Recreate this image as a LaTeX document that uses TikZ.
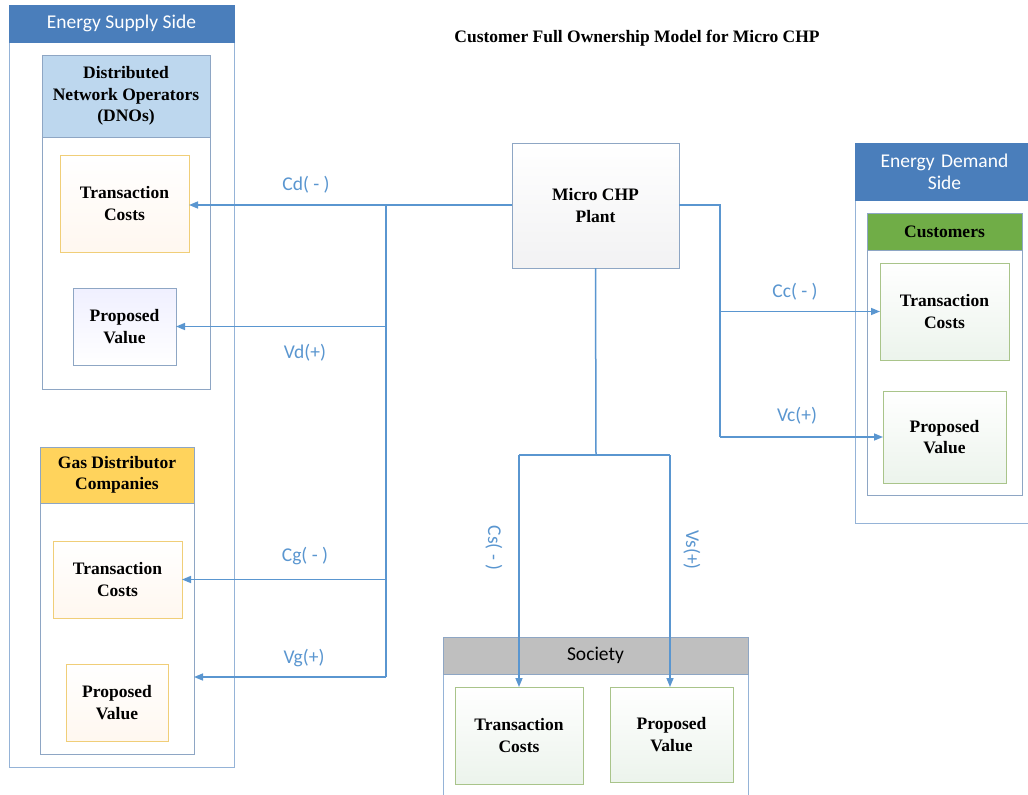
\documentclass[tikz,border=0pt]{standalone}
\usepackage{fontspec}
\setmainfont{Liberation Serif}
\newfontfamily\labelfont{Carlito}
\usetikzlibrary{arrows.meta}

\definecolor{headblue}{HTML}{4A7EBB}
\definecolor{frameblue}{HTML}{95B3D7}
\definecolor{dnohead}{HTML}{BDD7EE}
\definecolor{gashead}{HTML}{FFD35C}
\definecolor{custhead}{HTML}{70AD47}
\definecolor{sochead}{HTML}{BFBFBF}
\definecolor{linkblue}{HTML}{5A96D0}
\definecolor{goldedge}{HTML}{F0CE78}
\definecolor{greenedge}{HTML}{A9C48A}
\definecolor{greyblue}{HTML}{8EA6C4}

% place a rectangle node by its corners: name, x1, y1, x2, y2, style, text
\newcommand{\rbox}[7]{%
  \node[#6, minimum width={(#4-#2)*1pt}, minimum height={(#5-#3)*1pt}]
    (#1) at ({(#2+#4)/2},{(#3+#5)/2}) {#7};}

\tikzset{
  every node/.style={inner sep=0pt, outer sep=0pt, align=center},
  frame/.style={draw=frameblue, line width=1pt, fill=white},
  sanstxt/.style={font=\labelfont\fontsize{19.5}{22}\selectfont},
  bluehead/.style={draw=headblue, fill=headblue, text=white, sanstxt},
  subframe/.style={draw=greyblue, line width=1pt, fill=white},
  boldtxt/.style={font=\bfseries\fontsize{17.5}{21.5}\selectfont},
  peachbox/.style={draw=goldedge, line width=1pt, top color=white,
    bottom color=orange!6, boldtxt},
  paleblue/.style={draw=greyblue, line width=1pt, top color=blue!6,
    bottom color=white, boldtxt},
  palegreen/.style={draw=greenedge, line width=1pt, top color=white,
    bottom color=green!25!gray!12, boldtxt},
  chpbox/.style={draw=greyblue, line width=1pt, top color=white,
    bottom color=blue!5!gray!10, boldtxt},
  link/.style={draw=linkblue, line width=1.5pt},
  arr/.style={link, -{Triangle[length=9pt,width=7pt]}},
  lbl/.style={text=linkblue, sanstxt},
}

\begin{document}
\begin{tikzpicture}[x=1pt, y=-1pt]
\useasboundingbox[fill=white] (0,0) rectangle (1028,795);

% title
\node[font=\bfseries\fontsize{17.5}{20}\selectfont] (title) at (637,38)
  {Customer Full Ownership Model for Micro CHP};

% energy supply side
\rbox{supply}{9}{5}{234}{767}{frame}{}
\rbox{supplyhead}{9}{5}{234}{42}{bluehead}{Energy Supply Side}

\rbox{dno}{42}{55}{210}{389}{subframe}{}
\rbox{dnohead}{42}{55}{210}{137}{draw=greyblue, line width=1pt, fill=dnohead, boldtxt}
  {Distributed\\Network Operators\\(DNOs)}
\rbox{dnotc}{60}{155}{189}{252}{peachbox}{Transaction\\Costs}
\rbox{dnopv}{73}{288}{176}{365}{paleblue}{Proposed\\Value}

\rbox{gas}{40}{447}{194}{754}{subframe}{}
\rbox{gashead}{40}{447}{194}{503}{draw=greyblue, line width=1pt, fill=gashead, boldtxt}
  {Gas Distributor\\Companies}
\rbox{gastc}{53}{541}{182}{618}{peachbox}{Transaction\\Costs}
\rbox{gaspv}{66}{664}{168}{741}{peachbox}{Proposed\\Value}

% micro CHP plant
\rbox{chp}{512}{143}{679}{268}{chpbox}{Micro CHP\\Plant}

% energy demand side
\rbox{demand}{855}{143}{1034}{523}{frame}{}
\rbox{demandhead}{855}{143}{1034}{200}{bluehead, text width=170pt}{Energy Demand\\Side}
\rbox{cust}{867}{213}{1022}{495}{subframe}{}
\rbox{custhead}{867}{213}{1022}{250}{draw=greyblue, line width=1pt, fill=custhead, boldtxt}{Customers}
\rbox{custtc}{880}{263}{1009}{360}{palegreen}{Transaction\\Costs}
\rbox{custpv}{883}{391}{1006}{483}{palegreen}{Proposed\\Value}

% society
\rbox{soc}{443}{637}{748}{800}{frame}{}
\rbox{sochead}{443}{637}{748}{674}{draw=greyblue, line width=1pt, fill=sochead,
  sanstxt}{Society}
\rbox{soctc}{455}{687}{583}{784}{palegreen}{Transaction\\Costs}
\rbox{socpv}{610}{687}{733}{782}{palegreen}{Proposed\\Value}

% junction points of the flows
\coordinate (jl) at (386,205);
\coordinate (jb) at (386,677);
\coordinate (jr) at (720,205);
\coordinate (jm) at (596,455);
\coordinate (jsl) at (519,455);
\coordinate (jsr) at (670,455);

% supply side flows
\draw[arr] (chp.west |- jl) -- (jl -| dnotc.east);
\draw[link] (jl) -- (jb);
\draw[arr] (jl |- dnopv.east) -- (dnopv.east);
\draw[arr] (jl |- gastc.east) -- (gastc.east);
\draw[arr] (jb) -- (jb -| gas.east);

\node[lbl] (cd) at (306,185) {Cd( - )};
\node[lbl] (vd) at (305,353) {Vd(+)};
\node[lbl] (cg) at (305,556) {Cg( - )};
\node[lbl] (vg) at (304,658) {Vg(+)};

% demand side flows
\draw[link] (chp.east |- jr) -- (jr) -- (jr |- custpv.west);
\draw[arr] (jr |- custtc.west) -- (custtc.west);
\draw[arr] (jr |- custpv.west) -- (custpv.west);

\node[lbl] (cc) at (795,292) {Cc( - )};
\node[lbl] (vc) at (797,416) {Vc(+)};

% society flows
\draw[link] (chp.south) -- (jm);
\draw[link] (jsl) -- (jsr);
\draw[arr] (jsl) -- (jsl |- soctc.north);
\draw[arr] (jsr) -- (jsr |- socpv.north);

\node[lbl, rotate=-90] (cs) at (494,548) {Cs( - )};
\node[lbl, rotate=-90] (vs) at (692,550) {Vs(+)};
\end{tikzpicture}
\end{document}
